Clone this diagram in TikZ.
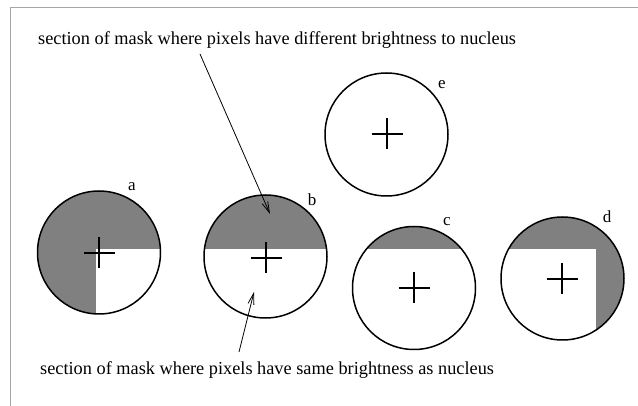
\documentclass[tikz,border=0pt]{standalone}
\usepackage{fontspec}
\setmainfont{Liberation Serif}
\usetikzlibrary{arrows.meta}
\tikzset{
    mask/.style={
        circle,
        draw=black,
        line width=1.5pt,
        inner sep=0pt,
        minimum size=123pt
    },
    masklabel/.style={
        font=\fontsize{17}{20}\selectfont,
        inner sep=0pt
    },
    caption/.style={
        font=\fontsize{18.3}{22}\selectfont,
        anchor=base west,
        inner sep=0pt
    },
    pointer/.style={
        -{Straight Barb[length=11pt,width=6pt]},
        line width=0.8pt,
        draw=black
    },
    nucleus/.style={line width=1.3pt},
    darker/.style={fill=black!50}
}

\begin{document}
\begin{tikzpicture}[x=1pt,y=-1pt]
            \useasboundingbox (0,0) rectangle (638,406);

            % Frame
            \draw[gray!70, line width=0.8pt] (10,406) -- (10,7) -- (638,7);

            % Grey parts of the masks
            \begin{scope}
                \clip (99,252.5) circle[radius=61.5pt];
                \fill[darker] (0,0) rectangle (700,249);
                \fill[darker] (0,249) rectangle (96,500);
            \end{scope}
            \begin{scope}
                \clip (265.5,256.5) circle[radius=61.5pt];
                \fill[darker] (0,0) rectangle (700,249);
            \end{scope}
            \begin{scope}
                \clip (414,288) circle[radius=61.5pt];
                \fill[darker] (0,0) rectangle (700,249);
            \end{scope}
            \begin{scope}
                \clip (562.5,278.5) circle[radius=61.5pt];
                \fill[darker] (0,0) rectangle (700,249);
                \fill[darker] (596,249) rectangle (700,500);
            \end{scope}

            % Mask outlines
            \node[mask] (maska) at (99,252.5) {};
            \node[mask] (maskb) at (265.5,256.5) {};
            \node[mask] (maskc) at (414,288) {};
            \node[mask] (maskd) at (562.5,278.5) {};
            \node[mask] (maske) at (386.5,134.5) {};

            % Nucleus crosses
            \foreach \cx/\cy in {99/253, 266/258, 414/288, 562/279, 387/134}
                \draw[nucleus] (\cx-15.5,\cy) -- (\cx+15.5,\cy)
                    (\cx,\cy-15.5) -- (\cx,\cy+15.5);

            % Labels
            \node[masklabel] (labela) at (132,187) {a};
            \node[masklabel] (labelb) at (312,200) {b};
            \node[masklabel] (labelc) at (447,222) {c};
            \node[masklabel] (labeld) at (607,217) {d};
            \node[masklabel] (labele) at (442,85) {e};

            % Captions
            \node[caption] (difftext) at (38,44.5)
                {section of mask where pixels have different brightness to nucleus};
            \node[caption] (sametext) at (40,375)
                {section of mask where pixels have same brightness as nucleus};

            % Pointers
            \coordinate (difftail) at (200,54);
            \coordinate (difftip) at (270,214);
            \coordinate (sametail) at (239,352);
            \coordinate (sametip) at (254,292);
            \draw[pointer] (difftail) -- (difftip);
            \draw[pointer] (sametail) -- (sametip);
\end{tikzpicture}
\end{document}
